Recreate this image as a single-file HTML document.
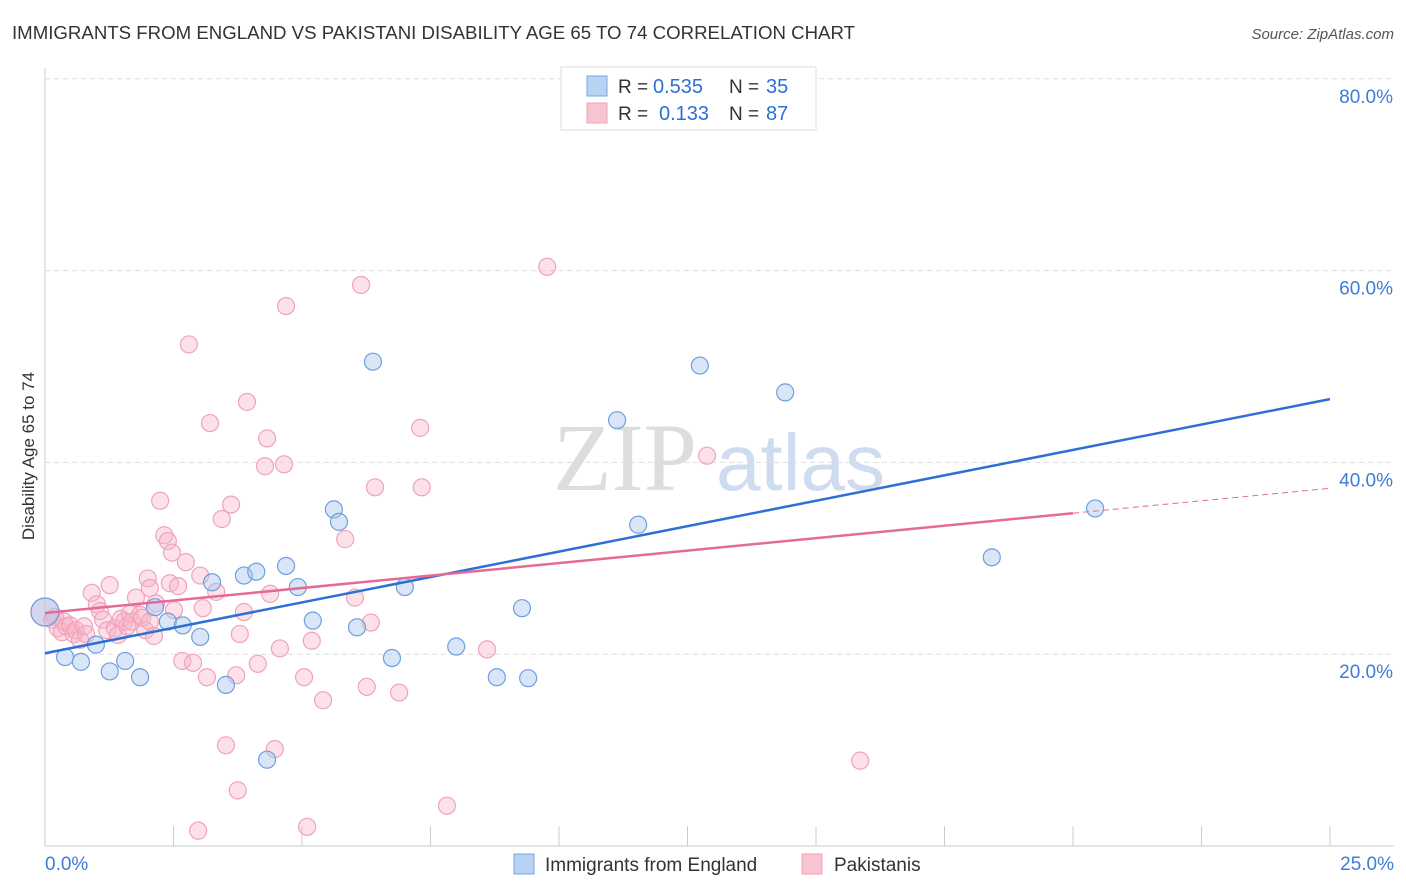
<!DOCTYPE html>
<html><head><meta charset="utf-8"><style>
body{margin:0;background:#fff;font-family:"Liberation Sans",sans-serif;}
svg{display:block}
</style></head><body>
<svg id="c" width="1406" height="892">
<text x="12" y="39" font-size="18" fill="#333" textLength="843" lengthAdjust="spacingAndGlyphs">IMMIGRANTS FROM ENGLAND VS PAKISTANI DISABILITY AGE 65 TO 74 CORRELATION CHART</text>
<text x="1394" y="39" font-size="15" fill="#555" font-style="italic" text-anchor="end">Source: ZipAtlas.com</text>
<text x="34" y="456" font-size="17" fill="#333" text-anchor="middle" transform="rotate(-90 34 456)">Disability Age 65 to 74</text>
<g><text x="553" y="490" font-size="96" fill="#ddd" font-family="Liberation Serif,serif">ZIP</text><text x="716" y="490" font-size="80" fill="#cfdcef">atlas</text></g>
<g id="grid"></g><g id="pts"></g><g id="lines"></g>
<g>
<rect x="561" y="67" width="255" height="63" fill="#fff" stroke="#ddd"/>
<rect x="587" y="76" width="20" height="20" fill="#b8d2f4" stroke="#7aa6e0"/>
<rect x="587" y="103" width="20" height="20" fill="#f9c4d2" stroke="#f0a0b8"/>
<text x="618" y="93" font-size="19" fill="#333">R =</text><text x="653" y="93" font-size="20" fill="#2e6fd6">0.535</text>
<text x="729" y="93" font-size="19" fill="#333">N =</text><text x="766" y="93" font-size="20" fill="#2e6fd6">35</text>
<text x="618" y="120" font-size="19" fill="#333">R =</text><text x="659" y="120" font-size="20" fill="#2e6fd6">0.133</text>
<text x="729" y="120" font-size="19" fill="#333">N =</text><text x="766" y="120" font-size="20" fill="#2e6fd6">87</text>
</g>
<g>
<rect x="514" y="854" width="20" height="20" fill="#b8d2f4" stroke="#7aa6e0"/>
<text x="545" y="871" font-size="19" fill="#333">Immigrants from England</text>
<rect x="802" y="854" width="20" height="20" fill="#f9c4d2" stroke="#f0a0b8"/>
<text x="834" y="871" font-size="19" fill="#333">Pakistanis</text>
</g>
</svg>
<script>
const yTicks=[20,40,60,80];
const xTickLabels=["0.0%","25.0%"];
const blueX=[0,0.39,0.70,0.99,1.26,1.56,1.85,2.14,2.39,2.68,3.02,3.25,3.52,3.87,4.11,4.32,4.69,4.92,5.21,5.62,5.72,6.07,6.38,6.75,7.00,8.00,8.79,9.28,9.40,11.13,11.54,12.74,14.40,18.42,20.43];
const blueY=[24.4,19.7,19.2,21.0,18.2,19.3,17.6,24.9,23.4,23.0,21.8,27.5,16.8,28.2,28.6,9.0,29.2,27.0,23.5,35.1,33.8,22.8,50.5,19.6,27.0,20.8,17.6,24.8,17.5,44.4,33.5,50.1,47.3,30.1,35.2];
const pinkX=[0,.14,.19,.25,.33,.37,.41,.49,.56,.60,.68,.76,.80,.91,1.01,1.07,1.13,1.21,1.26,1.36,1.42,1.48,1.54,1.60,1.65,1.69,1.77,1.85,1.89,1.95,2.00,2.04,2.04,2.12,2.16,2.24,2.32,2.39,2.43,2.47,2.51,2.59,2.67,2.74,2.80,2.88,2.98,3.02,3.07,3.15,3.21,3.33,3.44,3.52,3.62,3.72,3.75,3.79,3.87,3.93,4.14,4.28,4.32,4.38,4.47,4.57,4.65,4.69,5.04,5.10,5.19,5.41,5.84,6.03,6.15,6.26,6.34,6.42,6.89,7.30,7.33,7.82,8.60,9.77,12.88,15.86];
const pinkY=[24.4,23.6,23.9,22.7,22.3,23.4,22.9,23.0,22.1,22.5,21.5,22.9,22.1,26.4,25.2,24.5,23.6,22.5,27.2,22.7,22.0,23.7,23.4,22.9,24.2,23.4,25.9,24.1,23.8,22.5,27.9,26.9,23.4,21.9,25.3,36.0,32.4,31.8,27.4,30.6,24.6,27.1,19.3,29.6,52.3,19.1,1.6,28.2,24.8,17.6,44.1,26.5,34.1,10.5,35.6,17.8,5.8,22.1,24.4,46.3,19.0,39.6,42.5,26.3,10.1,20.6,39.8,56.3,17.6,2.0,21.4,15.2,32.0,25.9,58.5,16.6,23.3,37.4,16.0,43.6,37.4,4.2,20.5,60.4,40.7,8.9];
const blueLine=[20.1,46.6];
const pinkLine=[24.3,34.7,37.3];
const X=v=>45+v*51.4, Y=v=>846-v*9.59;
const NS="http://www.w3.org/2000/svg";
function mk(t,a,p){const e=document.createElementNS(NS,t);for(const k in a)e.setAttribute(k,a[k]);p.appendChild(e);return e;}
const g=document.getElementById('grid');
yTicks.forEach(t=>{
 const l=mk('line',{x1:45,x2:1394,y1:Y(t),y2:Y(t),stroke:'#ddd','stroke-dasharray':'5,4'},g);
 
 
 const tx=mk('text',{x:1393,y:Y(t)+24,'font-size':19,fill:'#3f7bd8','text-anchor':'end'},g);
 tx.textContent=t.toFixed(1)+'%';
 
 
});
mk('line',{x1:45,x2:45,y1:68,y2:846,stroke:'#ccc'},g);
mk('line',{x1:45,x2:1394,y1:846,y2:846,stroke:'#ccc'},g);
for(let i=0;i<=10;i++){const l=mk('line',{x1:X(i*2.5),x2:X(i*2.5),y1:826,y2:846,stroke:'#ccc'},g);
 
 }
[[45,'start',0],[1394,'end',1]].forEach(([x,a,i])=>{const t=mk('text',{x:x,y:870,'font-size':19,fill:'#3f7bd8','text-anchor':a},g);t.textContent=xTickLabels[i];
 
 });
const p=document.getElementById('pts');
pinkX.forEach((x,i)=>{const c=mk('circle',{cx:X(x),cy:Y(pinkY[i]),r:i==0?14:8.5,fill:'rgba(248,180,200,0.4)',stroke:'#f0a3ba','stroke-width':1.2},p);
 
 });
blueX.forEach((x,i)=>{const c=mk('circle',{cx:X(x),cy:Y(blueY[i]),r:i==0?14:8.5,fill:'rgba(170,200,240,0.45)',stroke:'#6e9fe0','stroke-width':1.2},p);
 
 });
const L=document.getElementById('lines');
let a=mk('line',{x1:X(0),y1:Y(blueLine[0]),x2:X(25),y2:Y(blueLine[1]),stroke:'#2e6fd6','stroke-width':2.5},L);


a=mk('line',{x1:X(0),y1:Y(pinkLine[0]),x2:X(20),y2:Y(pinkLine[1]),stroke:'#e56a95','stroke-width':2.5},L);


a=mk('line',{x1:X(20),y1:Y(pinkLine[1]),x2:X(25),y2:Y(pinkLine[2]),stroke:'#e56a95','stroke-width':1,'stroke-dasharray':'6,4'},L);


</script>
</body></html>
